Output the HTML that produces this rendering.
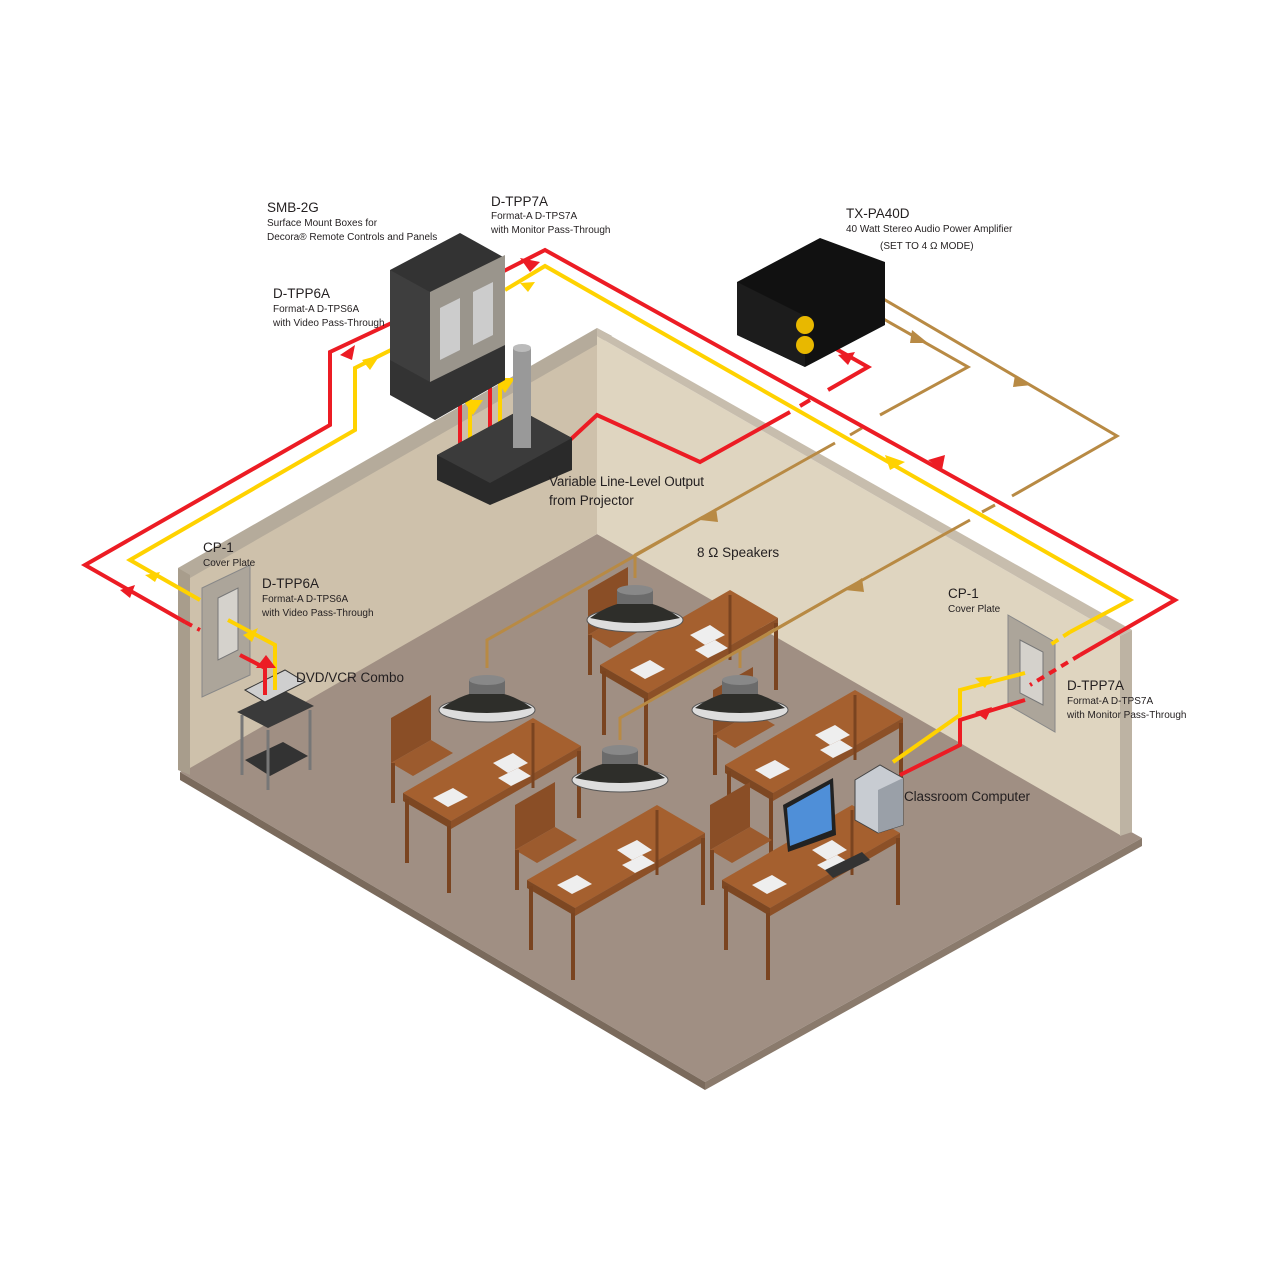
<!DOCTYPE html>
<html><head><meta charset="utf-8"><style>
html,body{margin:0;padding:0;background:#fff}
svg{display:block}
text{font-family:"Liberation Sans",sans-serif;fill:#231f20}
.t{font-size:13.5px}
.s{font-size:10px}
</style></head><body>
<svg width="1280" height="1280" viewBox="0 0 1280 1280" xmlns="http://www.w3.org/2000/svg">
<defs>
<g id="desk">
  <polygon points="-12,-30 -12,-75 28,-98 28,-53" fill="#8a4e26"/>
  <polygon points="-12,-30 28,-53 50,-40 10,-17" fill="#9c5b2e"/>
  <line x1="-10" y1="-30" x2="-10" y2="10" stroke="#7a4420" stroke-width="4"/>
  <polygon points="0,0 130,-75 178,-47 48,28" fill="#a5602f"/>
  <polygon points="0,0 48,28 48,36 0,8" fill="#7d4722"/>
  <polygon points="48,28 178,-47 178,-39 48,36" fill="#8c5027"/>
  <line x1="4" y1="6" x2="4" y2="70" stroke="#7a4420" stroke-width="4"/>
  <line x1="46" y1="33" x2="46" y2="100" stroke="#7a4420" stroke-width="4"/>
  <line x1="176" y1="-42" x2="176" y2="25" stroke="#7a4420" stroke-width="4"/>
  <line x1="130" y1="-70" x2="130" y2="-5" stroke="#7a4420" stroke-width="3"/>
  <polygon points="30,5 50,-5 65,4 45,14" fill="#eee"/>
  <polygon points="90,-30 110,-40 125,-30 105,-20" fill="#eee"/>
  <polygon points="95,-15 115,-25 128,-17 108,-7" fill="#eee"/>
</g>
<g id="spk">
  <ellipse cx="0" cy="30" rx="48" ry="12" fill="#ddd" stroke="#555"/>
  <path d="M-45,28 Q0,-5 45,28 Q0,38 -45,28Z" fill="#2e2e2a"/>
  <rect x="-18" y="0" width="36" height="14" fill="#6b6b6b"/>
  <ellipse cx="0" cy="0" rx="18" ry="5" fill="#888"/>
</g>
</defs>

<polygon points="180,772 597,534 1142,838 705,1082" fill="#a08f83"/>
<polygon points="180,772 705,1082 705,1090 180,780" fill="#7a6a5c"/>
<polygon points="705,1082 1142,838 1142,846 705,1090" fill="#8a7a6c"/>
<polygon points="190,575 597,343 597,534 190,768" fill="#cec1ab"/>
<polygon points="178,568 597,328 612,336 190,578" fill="#b5ab9b"/>
<polygon points="178,568 190,575 190,775 178,770" fill="#a89d8c"/>
<polygon points="597,336 1120,636 1120,835 597,534" fill="#dfd5c0"/>
<polygon points="597,328 1132,630 1120,636 597,336" fill="#c7bdad"/>
<polygon points="1120,636 1132,630 1132,832 1120,836" fill="#bdb3a3"/>

<polygon points="202,588 250,565 250,675 202,697" fill="#aca59a" stroke="#888"/>
<polygon points="218,598 238,588 238,650 218,660" fill="#d5d2cc" stroke="#777"/>
<polygon points="1008,615 1055,642 1055,732 1008,705" fill="#aca59a" stroke="#888"/>
<polygon points="1020,640 1043,652 1043,705 1020,693" fill="#d5d2cc" stroke="#777"/>

<use href="#desk" x="403" y="793"/>
<use href="#desk" x="527" y="880"/>
<use href="#desk" x="600" y="665"/>
<use href="#desk" x="725" y="765"/>
<use href="#desk" x="722" y="880"/>
<polygon points="783,805 833,778 836,835 788,852" fill="#222"/>
<polygon points="787,808 830,784 832,830 790,846" fill="#4f8fd8"/>
<polygon points="825,870 862,852 870,860 833,878" fill="#333"/>
<polygon points="855,780 880,765 903,778 903,825 878,833 855,820" fill="#c8ccd2" stroke="#444"/>
<polygon points="878,790 903,778 903,825 878,833" fill="#9aa0a8"/>

<use href="#spk" x="635" y="590"/>
<use href="#spk" x="487" y="680"/>
<use href="#spk" x="740" y="680"/>
<use href="#spk" x="620" y="750"/>

<polygon points="237,712 283,690 314,706 268,728" fill="#3a3a3a"/>
<polygon points="245,690 285,670 305,682 265,702" fill="#cfcfcf" stroke="#333"/>
<polygon points="245,760 283,742 308,756 270,776" fill="#333"/>
<line x1="242" y1="715" x2="242" y2="775" stroke="#777" stroke-width="3"/>
<line x1="268" y1="730" x2="268" y2="790" stroke="#777" stroke-width="3"/>
<line x1="310" y1="710" x2="310" y2="770" stroke="#777" stroke-width="3"/>

<g fill="none" stroke="#b88a44" stroke-width="3">
  <polyline points="873,313 968,367 880,415"/>
  <polyline points="835,443 703,517 487,640 487,668"/>
  <polyline points="880,297 1117,436 1012,496"/>
  <polyline points="970,520 848,588 620,718 620,740"/>
  <line x1="862" y1="428" x2="850" y2="435"/>
  <line x1="995" y1="505" x2="982" y2="512"/>
  <polyline points="703,517 635,555 635,578"/>
  <polyline points="848,588 740,650 740,668"/>
</g>
<g fill="#b88a44">
  <polygon points="912,330 928,343 910,343"/>
  <polygon points="1015,375 1032,385 1013,387"/>
  <polygon points="700,520 716,508 718,522"/>
  <polygon points="845,590 862,578 864,592"/>
</g>

<g fill="none" stroke-width="4">
  <polyline stroke="#ec1c24" points="398,320 330,352 330,425 85,565 185,622"/>
  <polyline stroke="#ffd200" points="415,338 355,368 355,430 130,560 200,600"/>
  <polyline stroke="#ec1c24" points="500,273 545,250 1175,600 1080,655"/>
  <polyline stroke="#ffd200" points="505,290 545,266 1130,600 1070,632"/>
  <polyline stroke="#ec1c24" points="460,345 460,445"/>
  <polyline stroke="#ec1c24" points="490,330 490,435"/>
  <polyline stroke="#ffd200" points="450,315 470,325 470,440"/>
  <polyline stroke="#ffd200" points="485,298 500,305 500,425"/>
  <polyline stroke="#ec1c24" points="570,440 597,415 700,462 790,412"/>
  <polyline stroke="#ec1c24" points="808,333 868,367 828,390"/>
  <polyline stroke="#ec1c24" stroke-dasharray="8 6" points="185,622 200,630"/>
  <polyline stroke="#ec1c24" stroke-dasharray="8 6" points="1080,655 1030,685"/>
  <polyline stroke="#ffd200" stroke-dasharray="8 6" points="1070,632 1050,645"/>
  <polyline stroke="#ec1c24" points="240,655 265,668 265,695"/>
  <polyline stroke="#ffd200" points="228,620 275,645 275,690"/>
  <polyline stroke="#ec1c24" points="1025,700 960,720 960,745 900,775"/>
  <polyline stroke="#ffd200" points="1025,673 960,690 960,715 893,762"/>
  <line stroke="#ec1c24" x1="810" y1="400" x2="800" y2="406"/>
</g>
<g>
  <polygon points="340,355 355,345 352,360" fill="#ec1c24"/>
  <polygon points="362,360 380,355 370,370" fill="#ffd200"/>
  <polygon points="120,590 135,585 130,598" fill="#ec1c24"/>
  <polygon points="145,575 160,572 155,582" fill="#ffd200"/>
  <polygon points="520,258 540,262 530,272" fill="#ec1c24"/>
  <polygon points="520,283 535,282 528,292" fill="#ffd200"/>
  <polygon points="928,460 945,455 942,470" fill="#ec1c24"/>
  <polygon points="885,455 905,462 890,470" fill="#ffd200"/>
  <polygon points="455,380 465,395 475,380" fill="#ec1c24"/>
  <polygon points="485,375 495,360 505,375" fill="#ec1c24"/>
  <polygon points="463,400 473,415 483,400" fill="#ffd200"/>
  <polygon points="495,378 505,393 515,378" fill="#ffd200"/>
  <polygon points="838,355 855,352 848,365" fill="#ec1c24"/>
  <polygon points="243,635 258,628 252,642" fill="#ffd200"/>
  <polygon points="256,668 266,655 276,668" fill="#ec1c24"/>
  <polygon points="975,678 992,676 985,688" fill="#ffd200"/>
  <polygon points="975,712 992,707 986,720" fill="#ec1c24"/>
</g>

<polygon points="390,270 460,233 505,258 505,380 435,420 390,395" fill="#333"/>
<polygon points="430,292 505,255 505,345 430,382" fill="#9a958c"/>
<polygon points="390,270 430,292 430,382 390,360" fill="#3e3e3e"/>
<polygon points="440,308 460,298 460,350 440,360" fill="#ccc"/>
<polygon points="473,292 493,282 493,335 473,345" fill="#ccc"/>
<polygon points="437,455 520,410 572,438 572,470 490,505 437,480" fill="#2a2a2a"/>
<polygon points="437,455 490,483 572,438 520,410" fill="#3b3b3b"/>
<rect x="513" y="348" width="18" height="100" fill="#999"/>
<ellipse cx="522" cy="348" rx="9" ry="4" fill="#bbb"/>
<polygon points="737,282 820,238 885,262 885,325 805,367 737,335" fill="#111"/>
<polygon points="737,282 805,316 805,367 737,335" fill="#1c1c1c"/>
<circle cx="805" cy="325" r="9" fill="#e8b800"/>
<circle cx="805" cy="345" r="9" fill="#e8b800"/>

<text class="t" x="267" y="212">SMB-2G</text>
<text class="s" x="267" y="226">Surface Mount Boxes for</text>
<text class="s" x="267" y="240">Decora® Remote Controls and Panels</text>
<text class="t" x="491" y="206">D-TPP7A</text>
<text class="s" x="491" y="219">Format-A D-TPS7A</text>
<text class="s" x="491" y="233">with Monitor Pass-Through</text>
<text class="t" x="846" y="218">TX-PA40D</text>
<text class="s" x="846" y="232">40 Watt Stereo Audio Power Amplifier</text>
<text class="s" x="880" y="249">(SET TO 4 Ω MODE)</text>
<text class="t" x="273" y="298">D-TPP6A</text>
<text class="s" x="273" y="312">Format-A D-TPS6A</text>
<text class="s" x="273" y="326">with Video Pass-Through</text>
<text class="t" x="549" y="486" textLength="155">Variable Line-Level Output</text>
<text class="t" x="549" y="505">from Projector</text>
<text class="t" x="697" y="557">8 Ω Speakers</text>
<text class="t" x="203" y="552">CP-1</text>
<text class="s" x="203" y="566">Cover Plate</text>
<text class="t" x="262" y="588">D-TPP6A</text>
<text class="s" x="262" y="602">Format-A D-TPS6A</text>
<text class="s" x="262" y="616">with Video Pass-Through</text>
<text class="t" x="296" y="682">DVD/VCR Combo</text>
<text class="t" x="948" y="598">CP-1</text>
<text class="s" x="948" y="612">Cover Plate</text>
<text class="t" x="1067" y="690">D-TPP7A</text>
<text class="s" x="1067" y="704">Format-A D-TPS7A</text>
<text class="s" x="1067" y="718">with Monitor Pass-Through</text>
<text class="t" x="904" y="801" textLength="126">Classroom Computer</text>
</svg>
</body></html>
